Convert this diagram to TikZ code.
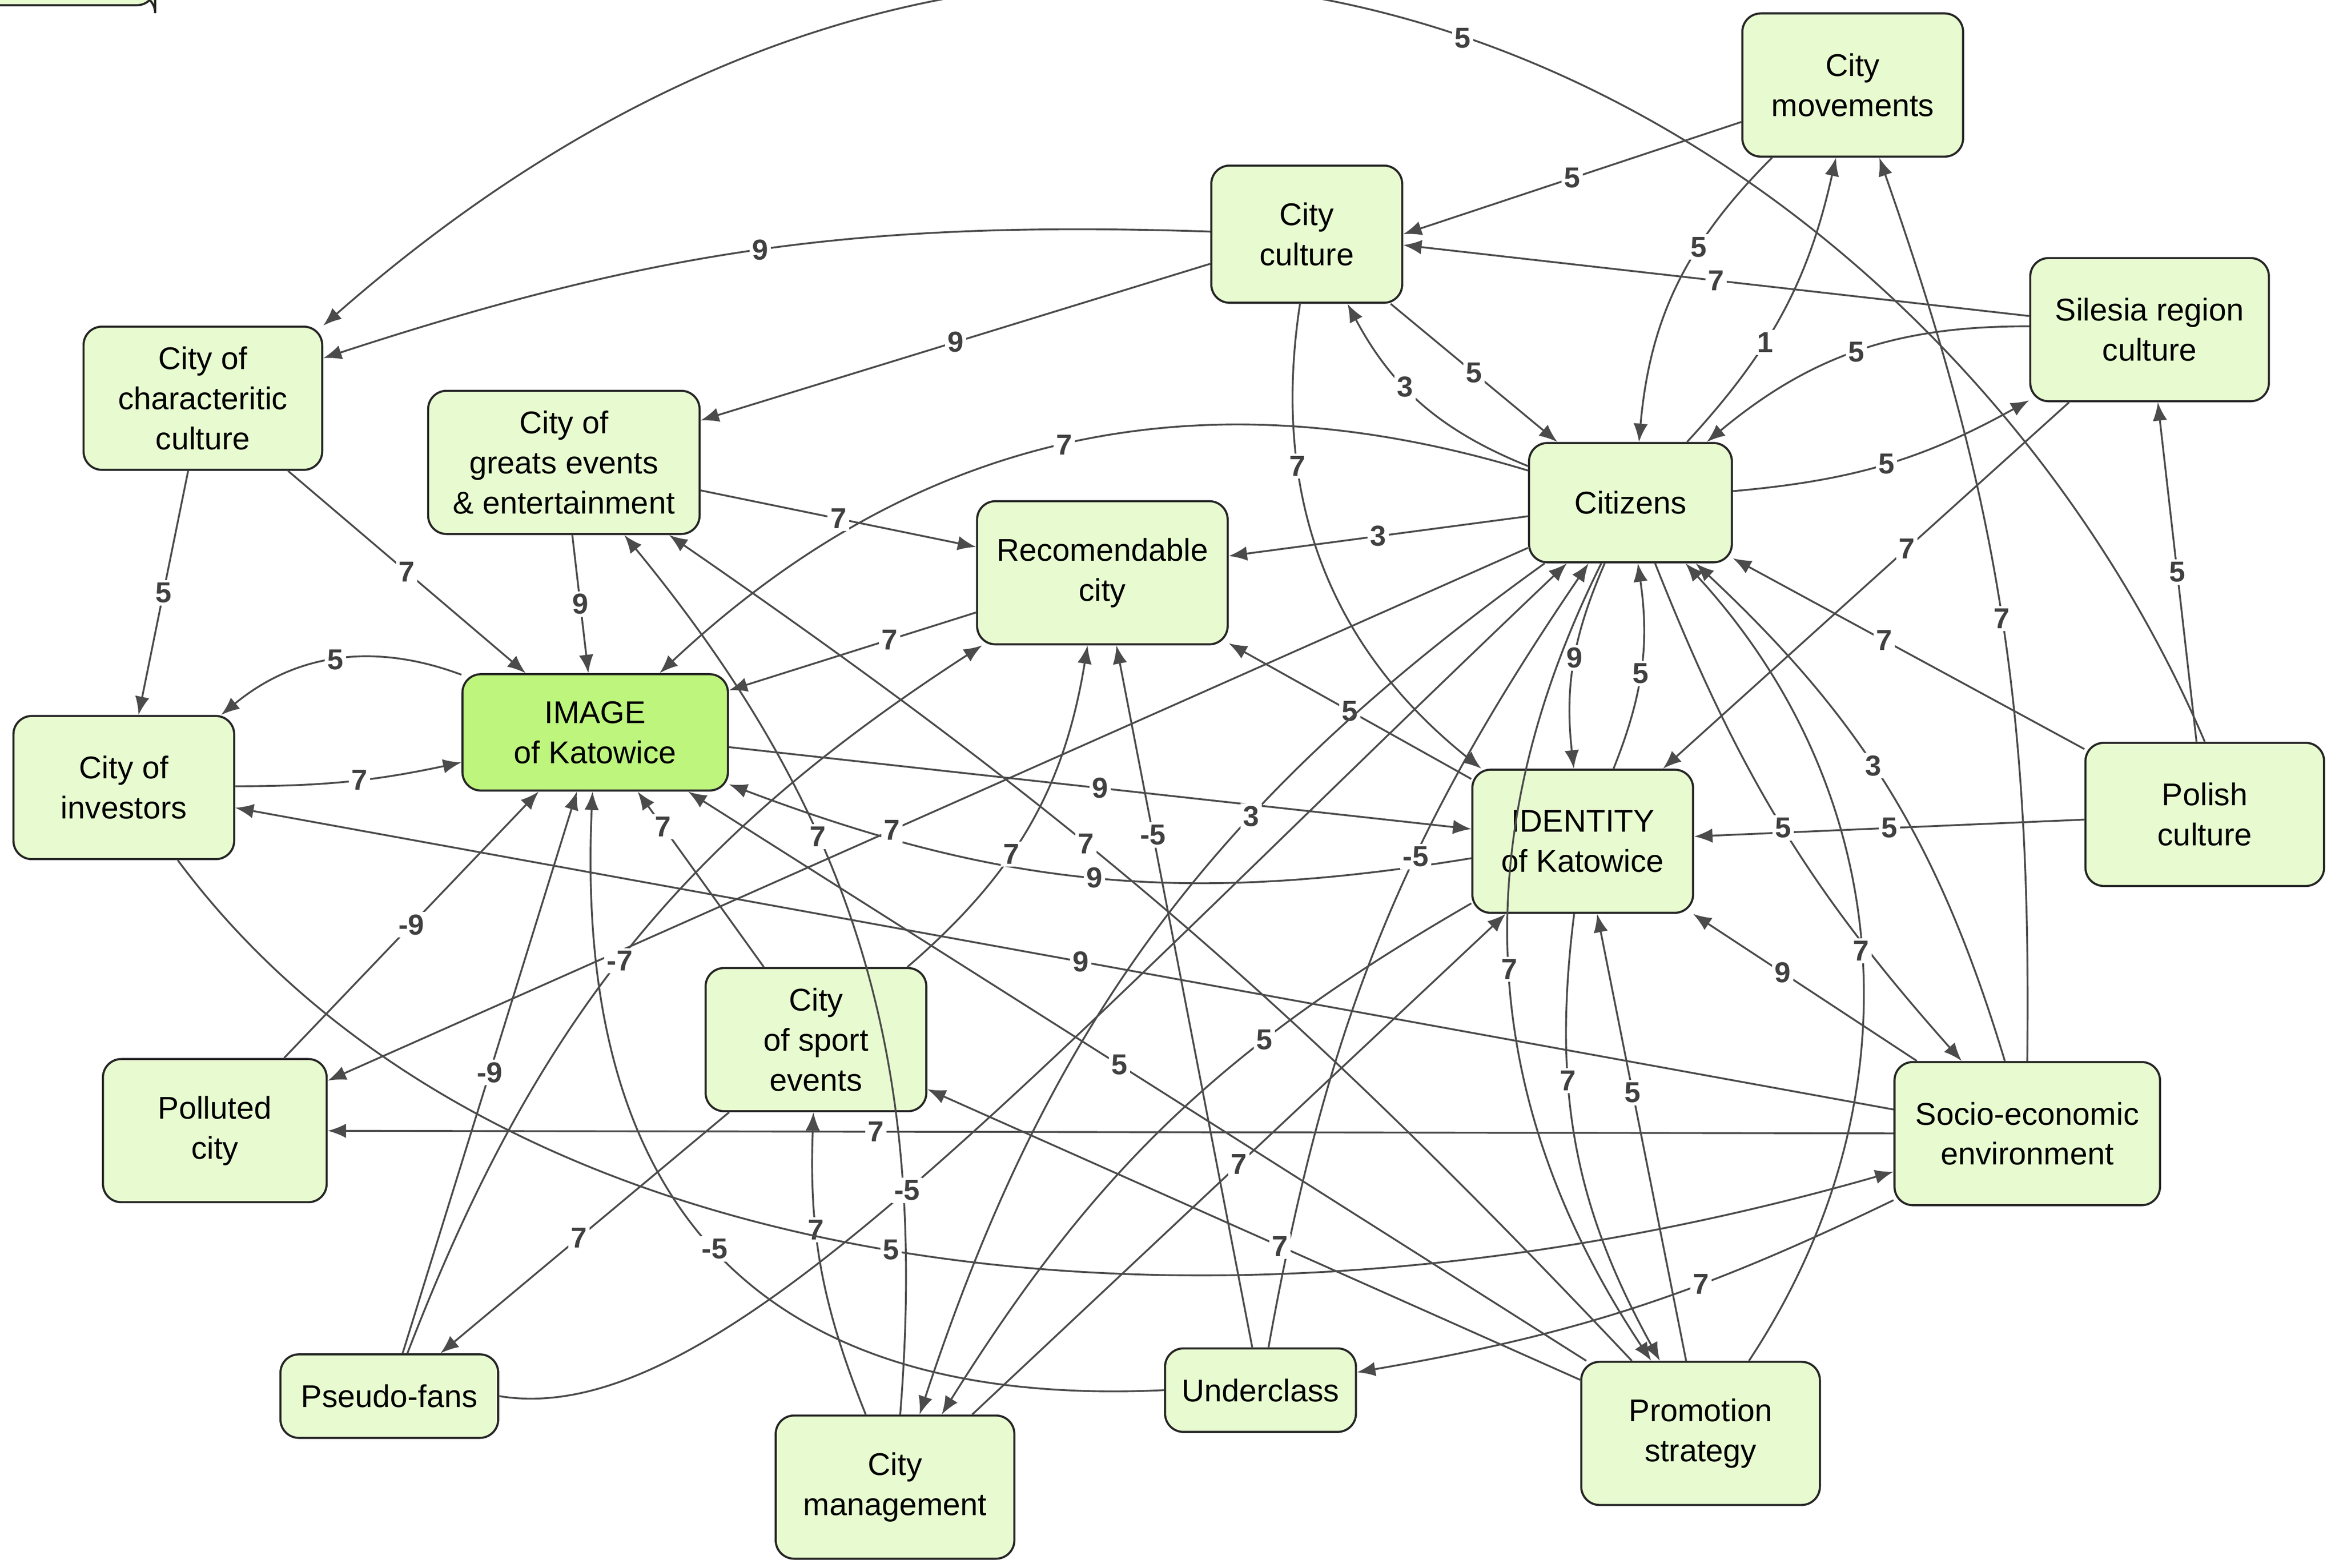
\documentclass[tikz,border=0pt]{standalone}
\usepackage{fontspec}
\setmainfont{Liberation Sans}
\usetikzlibrary{arrows.meta}
\definecolor{nfill}{RGB}{232,251,208}
\definecolor{ifill}{RGB}{190,245,125}
\definecolor{ecol}{RGB}{75,75,75}
\begin{document}
\begin{tikzpicture}[x=0.02cm,y=-0.02cm,
 box/.style={draw=black!85,line width=0.8pt,fill=nfill,rounded corners=7pt,align=center,font=\fontsize{12pt}{15.3pt}\selectfont,inner sep=2pt},
 e/.style={draw=ecol,line width=0.7pt,-{Latex[length=7pt,width=5.5pt]}},
 l/.style={fill=white,inner sep=1pt,font=\fontsize{11pt}{12pt}\selectfont\bfseries,text=black!75}]
\useasboundingbox (0,0) rectangle (1568,1051);
\node[box,minimum width=148\pgflinewidth] at (0,0) {};
\node[box,minimum width=2.96cm,minimum height=1.92cm] (mov) at (1242,57) {City\\movements};
\node[box,minimum width=2.56cm,minimum height=1.84cm] (cul) at (876,157) {City\\culture};
\node[box,minimum width=3.2cm,minimum height=1.92cm] (sil) at (1441,221) {Silesia region\\culture};
\node[box,minimum width=3.2cm,minimum height=1.92cm] (chc) at (136,267) {City of\\characteritic\\culture};
\node[box,minimum width=3.64cm,minimum height=1.92cm] (gre) at (378,310) {City of\\greats events\\\& entertainment};
\node[box,minimum width=3.36cm,minimum height=1.92cm] (rec) at (739,384) {Recomendable\\city};
\node[box,minimum width=2.72cm,minimum height=1.6cm] (citz) at (1093,337) {Citizens};
\node[box,fill=ifill,minimum width=3.56cm,minimum height=1.56cm] (img) at (399,491) {IMAGE\\of Katowice};
\node[box,minimum width=2.96cm,minimum height=1.92cm] (inv) at (83,528) {City of\\investors};
\node[box,minimum width=2.96cm,minimum height=1.92cm] (ide) at (1061,564) {IDENTITY\\of Katowice};
\node[box,minimum width=3.2cm,minimum height=1.92cm] (pol) at (1478,546) {Polish\\culture};
\node[box,minimum width=3cm,minimum height=1.92cm] (plt) at (144,758) {Polluted\\city};
\node[box,minimum width=2.96cm,minimum height=1.92cm] (spo) at (547,697) {City\\of sport\\events};
\node[box,minimum width=3.56cm,minimum height=1.92cm] (soc) at (1359,760) {Socio-economic\\environment};
\node[box,minimum width=2.92cm,minimum height=1.12cm] (pse) at (261,936) {Pseudo-fans};
\node[box,minimum width=2.56cm,minimum height=1.12cm] (und) at (845,932) {Underclass};
\node[box,minimum width=3.2cm,minimum height=1.92cm] (man) at (600,997) {City\\management};
\node[box,minimum width=3.2cm,minimum height=1.92cm] (pro) at (1140,961) {Promotion\\strategy};

\draw[e] (mov) -- node[l]{5} (cul.east);
\draw[e] (pol.north) .. controls (1300,80) and (750,-250) .. (chc.north east) node[l,pos=0.5]{5};
\draw[e] (cul) to[bend right=10] node[l]{9} (chc);
\draw[e] (cul) -- node[l]{9} (gre);
\draw[e] (sil) -- node[l]{7} (cul);
\draw[e] (cul) -- node[l]{5} (citz);
\draw[e] (citz) to[bend left=20] node[l,pos=0.6]{3} (cul);
\draw[e] (mov) to[bend right=20] node[l,pos=0.35]{5} (citz);
\draw[e] (citz) to[bend right=15] node[l,pos=0.38]{1} (mov);
\draw[e] (sil) to[bend right=20] node[l]{5} (citz);
\draw[e] (citz) to[bend right=12] node[l]{5} (sil);
\draw[e] (citz) to[bend right=30] node[l]{7} (img);
\draw[e] (gre) -- node[l]{7} (rec);
\draw[e] (gre) -- node[l]{9} (img);
\draw[e] (chc) -- node[l]{7} (img);
\draw[e] (chc) -- node[l]{5} (inv);
\draw[e] (citz) -- node[l]{3} (rec);
\draw[e] (rec) -- node[l,pos=0.35]{7} (img);
\draw[e] (img) to[bend right=30] node[l]{5} (inv);
\draw[e] (inv) to[bend right=6] node[l,pos=0.55]{7} (img);
\draw[e] (img) -- node[l]{9} (ide);
\draw[e] (ide) to[bend left=15] node[l]{9} (img);
\draw[e] (ide) -- node[l]{5} (rec);
\draw[e] (cul) to[bend right=30] node[l,pos=0.3]{7} (ide);
\draw[e] (sil) -- node[l,pos=0.4]{7} (ide);
\draw[e] (citz) to[bend right=15] node[l,pos=0.47]{9} (ide);
\draw[e] (ide) to[bend right=15] node[l,pos=0.47]{5} (citz);
\draw[e] (pol) -- node[l,pos=0.57]{7} (citz);
\draw[e] (pol) -- node[l]{5} (sil);
\draw[e] (pol) -- node[l]{5} (ide);
\draw[e] (soc.north) to[bend right=10] node[l,pos=0.48]{7} (mov);
\draw[e] (soc) to[bend right=15] node[l,pos=0.55]{3} (citz);
\draw[e] (citz) to[bend right=10] node[l]{5} (soc);
\draw[e] (soc) -- node[l,pos=0.6]{9} (ide);
\draw[e] (soc) -- node[l,pos=0.49]{9} (inv);
\draw[e] (soc) -- node[l,pos=0.65]{7} (plt);
\draw[e] (citz) -- node[l,pos=0.53]{7} (plt);
\draw[e] (plt) -- node[l]{-9} (img);
\draw[e] (pse) -- node[l]{-9} (img);
\draw[e] (pse) to[bend left=18] node[l,pos=0.48]{-7} (rec);
\draw[e] (und.west) .. controls (500,945) and (385,800) .. (img) node[l,pos=0.5]{-5};
\draw[e] (spo) -- node[l,pos=0.8]{7} (img);
\draw[e] (spo) to[bend right=20] node[l,pos=0.4]{7} (rec);
\draw[e] (spo) -- node[l,pos=0.52]{7} (pse);
\draw[e] (man) to[bend left=12] node[l,pos=0.63]{7} (spo);
\draw[e] (man) to[bend right=22] node[l,pos=0.63]{7} (gre);
\draw[e] (pro) to[bend right=6] node[l,pos=0.6]{7} (gre);
\draw[e] (citz) to[bend right=18] node[l,pos=0.35]{3} (man);
\draw[e] (ide) to[bend right=14] node[l,pos=0.32]{5} (man);
\draw[e] (man) -- node[l]{7} (ide);
\draw[e] (und) -- node[l,pos=0.73]{-5} (rec);
\draw[e] (und) to[bend left=12] node[l,pos=0.61]{-5} (citz);
\draw[e] (citz) to[bend right=30] node[l]{7} (pro);
\draw[e] (ide) to[bend right=18] node[l,pos=0.35]{7} (pro);
\draw[e] (pro) -- node[l,pos=0.6]{5} (ide);
\draw[e] (pro) to[bend right=38] node[l]{7} (citz);
\draw[e] (pro) -- node[l,pos=0.52]{5} (img);
\draw[e] (pro) -- node[l,pos=0.46]{7} (spo);
\draw[e] (soc) to[bend left=8] node[l,pos=0.36]{7} (und);
\draw[e] (inv) .. controls (330,860) and (800,920) .. (soc) node[l,pos=0.5]{5};
\draw[e] (pse.east) .. controls (480,960) and (680,730) .. (citz) node[l,pos=0.5]{-5};
\end{tikzpicture}
\end{document}
